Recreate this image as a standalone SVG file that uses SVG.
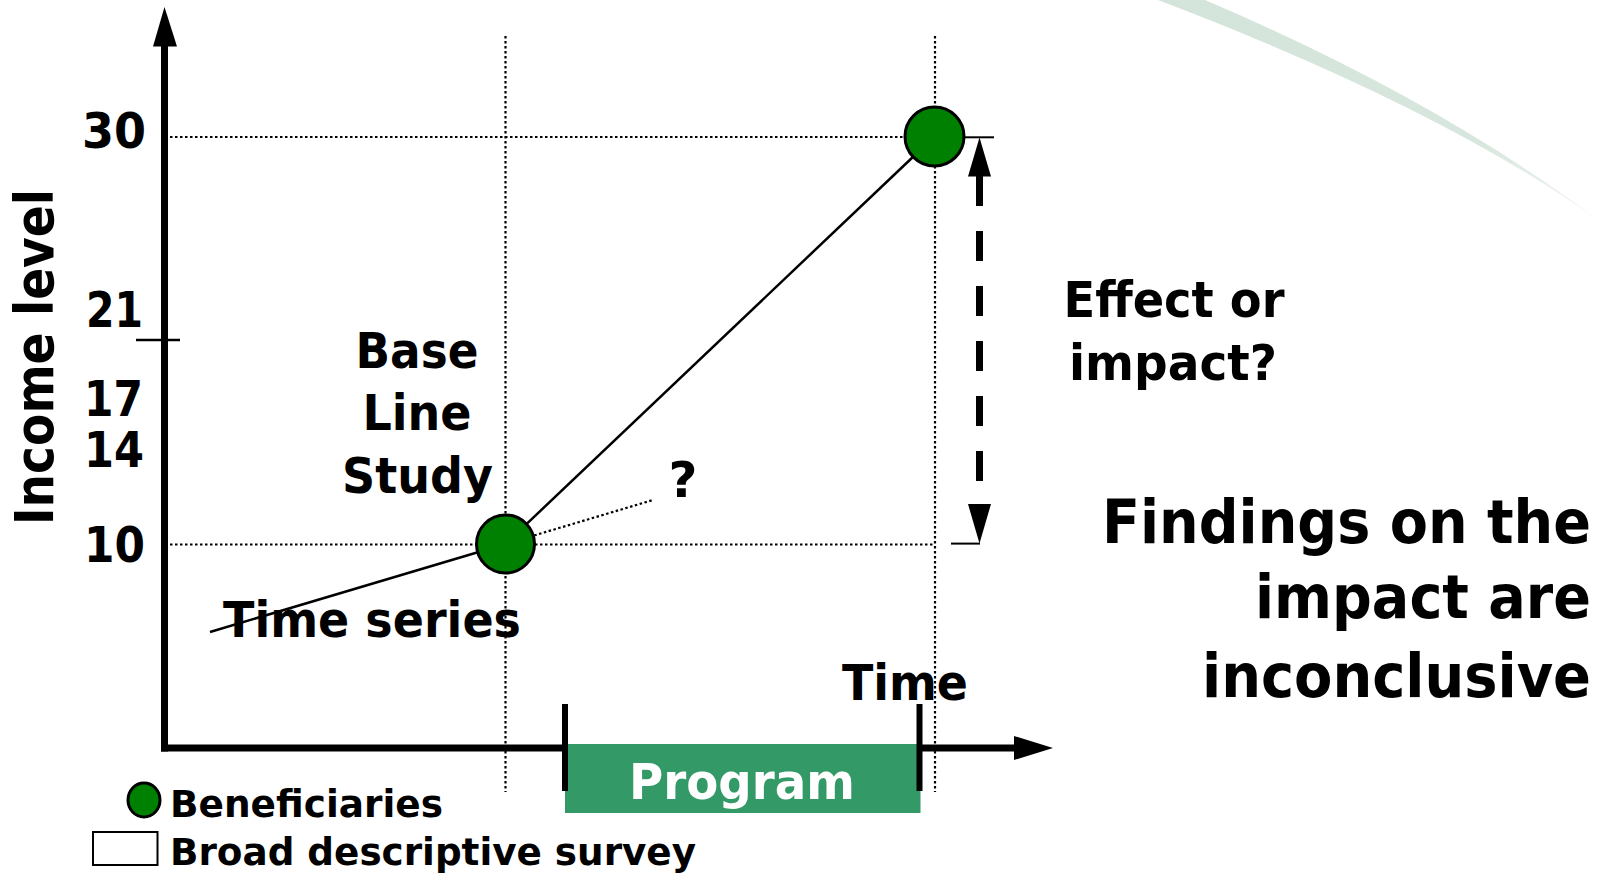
<svg xmlns="http://www.w3.org/2000/svg" width="1611" height="877" viewBox="0 0 1611 877">
<defs>
<style>
text{font-family:"DejaVu Sans","Liberation Sans",sans-serif;font-weight:bold;fill:#000}
.t50{font-size:50px}
.t60{font-size:60px}
.t37{font-size:37px}
.dot{stroke:#000;stroke-width:2.2;stroke-dasharray:2.5 2.5;fill:none}
.ln{stroke:#000;stroke-width:2.5;fill:none}
.pt{fill:#008000;stroke:#000;stroke-width:3}
</style>
<linearGradient id="fade" x1="1150" y1="0" x2="1611" y2="230" gradientUnits="userSpaceOnUse">
<stop offset="0" stop-color="#d3e4da"/>
<stop offset="0.7" stop-color="#d8e7de"/>
<stop offset="1" stop-color="#f4f8f5"/>
</linearGradient>
</defs>
<rect width="1611" height="877" fill="#fff"/>
<g id="decoration">
<path d="M1158,0 L1205,0 Q1440,100 1605,225 Q1447,110 1158,0 Z" fill="url(#fade)"/>
</g>
<g id="grid">
<line class="dot" x1="170" y1="137" x2="905" y2="137"/>
<line class="dot" x1="170" y1="544.5" x2="935" y2="544.5"/>
<line class="dot" x1="505.5" y1="36" x2="505.5" y2="792"/>
<line class="dot" x1="935" y1="36" x2="935" y2="792"/>
<line class="ln" x1="136" y1="340" x2="180" y2="340" stroke-width="2"/>
</g>
<g id="connectors">
<line class="ln" x1="210" y1="632" x2="505.5" y2="544"/>
<line class="ln" x1="505.5" y1="544" x2="934.5" y2="136.5"/>
<line class="dot" x1="505.5" y1="544" x2="653" y2="500"/>
<g id="impact-arrow">
<line x1="964" y1="137.3" x2="994" y2="137.3" stroke="#000" stroke-width="2"/>
<line x1="951" y1="543.6" x2="980" y2="543.6" stroke="#000" stroke-width="2"/>
<polygon points="979.5,137.5 968,176.5 991,176.5" fill="#000"/>
<polygon points="979.5,543.5 968,504 991,504" fill="#000"/>
<line x1="979.5" y1="176" x2="979.5" y2="504" stroke="#000" stroke-width="7" stroke-dasharray="30 25"/>
</g>
</g>
<g id="axes">
<line x1="164.5" y1="44" x2="164.5" y2="751.5" stroke="#000" stroke-width="7"/>
<polygon points="164.5,7 153,46.5 177,46.5" fill="#000"/>
<line x1="161" y1="748" x2="1016" y2="748" stroke="#000" stroke-width="7"/>
<polygon points="1053,748 1014,736 1014,760" fill="#000"/>
<text class="t50" x="146" y="148" text-anchor="end" textLength="64" lengthAdjust="spacingAndGlyphs">30</text>
<text class="t50" x="143" y="327" text-anchor="end" textLength="57" lengthAdjust="spacingAndGlyphs">21</text>
<text class="t50" x="143" y="416" text-anchor="end" textLength="59" lengthAdjust="spacingAndGlyphs">17</text>
<text class="t50" x="144" y="467" text-anchor="end" textLength="60" lengthAdjust="spacingAndGlyphs">14</text>
<text class="t50" x="145" y="562" text-anchor="end" textLength="61" lengthAdjust="spacingAndGlyphs">10</text>
<text transform="translate(53,357) rotate(-90)" x="0" y="0" text-anchor="middle" style="font-size:54px" textLength="336" lengthAdjust="spacingAndGlyphs">Income level</text>
<text class="t50" x="842" y="700" textLength="126" lengthAdjust="spacingAndGlyphs">Time</text>
</g>
<g id="program">
<rect x="565" y="744" width="355.5" height="69" fill="#339966"/>
<line x1="565" y1="704" x2="565" y2="791" stroke="#000" stroke-width="6"/>
<line x1="919.5" y1="704" x2="919.5" y2="791" stroke="#000" stroke-width="6"/>
<text class="t50" x="742" y="799" text-anchor="middle" style="fill:#fff" textLength="226" lengthAdjust="spacingAndGlyphs">Program</text>
</g>
<g id="baseline-point">
<circle class="pt" cx="505.5" cy="544" r="29"/>
</g>
<g id="end-point">
<circle class="pt" cx="934.5" cy="136.5" r="29.5"/>
</g>
<g id="baseline-label">
<text class="t50" x="417" y="368" text-anchor="middle" textLength="123" lengthAdjust="spacingAndGlyphs">Base</text>
<text class="t50" x="417" y="430" text-anchor="middle" textLength="109" lengthAdjust="spacingAndGlyphs">Line</text>
<text class="t50" x="417.5" y="493" text-anchor="middle" textLength="151" lengthAdjust="spacingAndGlyphs">Study</text>
</g>
<g id="question">
<text class="t50" x="683" y="497" text-anchor="middle" textLength="29" lengthAdjust="spacingAndGlyphs">?</text>
</g>
<g id="time-series">
<text class="t50" x="223" y="637" textLength="298" lengthAdjust="spacingAndGlyphs">Time series</text>
</g>
<g id="effect-label">
<text class="t50" x="1174" y="317" text-anchor="middle" textLength="221" lengthAdjust="spacingAndGlyphs">Effect or</text>
<text class="t50" x="1173" y="380" text-anchor="middle" textLength="208" lengthAdjust="spacingAndGlyphs">impact?</text>
</g>
<g id="findings">
<text class="t60" x="1591" y="543" text-anchor="end" textLength="489" lengthAdjust="spacingAndGlyphs">Findings on the</text>
<text class="t60" x="1591" y="618" text-anchor="end" textLength="336" lengthAdjust="spacingAndGlyphs">impact are</text>
<text class="t60" x="1591" y="697" text-anchor="end" textLength="389" lengthAdjust="spacingAndGlyphs">inconclusive</text>
</g>
<g id="legend">
<ellipse class="pt" cx="144" cy="800" rx="16" ry="17" stroke-width="2.5"/>
<text class="t37" x="170" y="817" textLength="273" lengthAdjust="spacingAndGlyphs">Beneficiaries</text>
<rect x="93" y="832" width="64.5" height="33" fill="#fff" stroke="#000" stroke-width="2"/>
<text class="t37" x="170" y="865" textLength="526" lengthAdjust="spacingAndGlyphs">Broad descriptive survey</text>
</g>
</svg>
